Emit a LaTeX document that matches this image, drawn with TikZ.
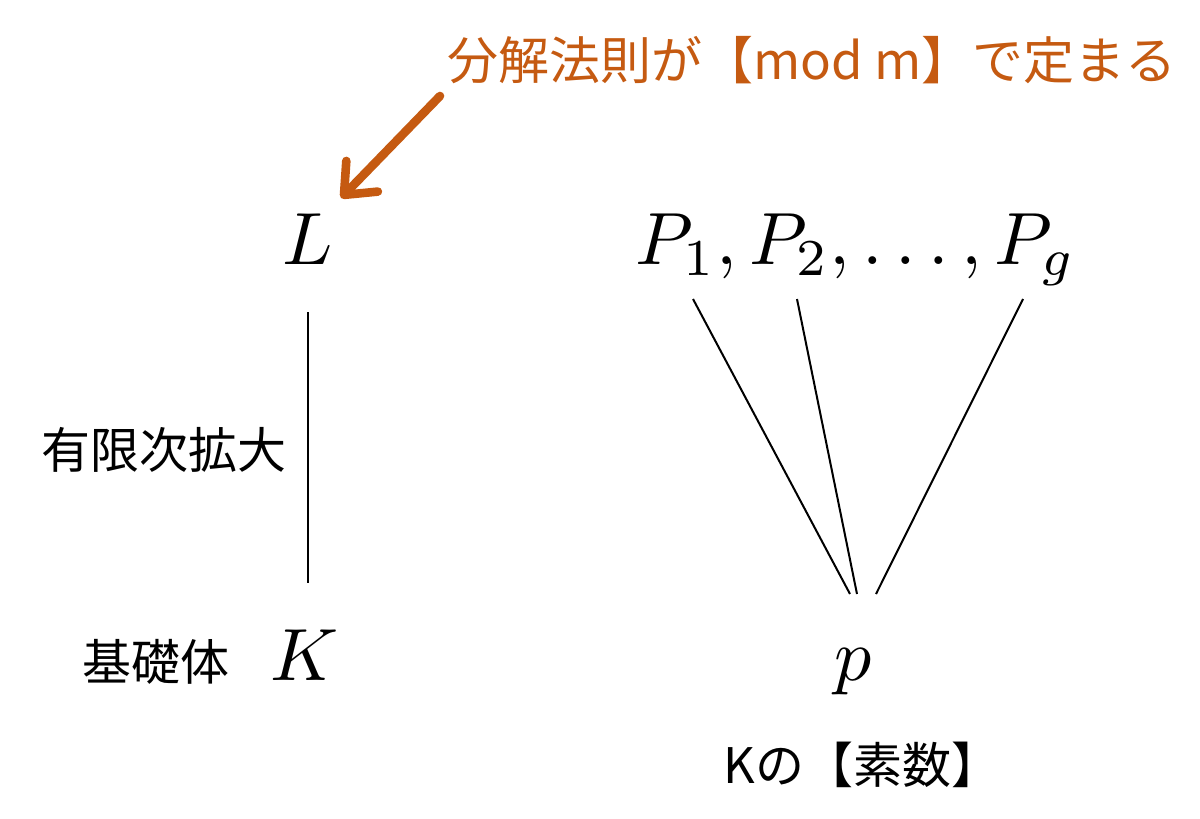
\RequirePackage{fix-cm}
\documentclass[tikz,border=0pt]{standalone}
\usepackage[no-math]{fontspec}
\setmainfont{Noto Sans CJK JP}
\usetikzlibrary{arrows.meta}
\definecolor{accentorange}{HTML}{C55A11}
\begin{document}
\begin{tikzpicture}[x=0.5pt,y=-0.5pt,
  mathlbl/.style={inner sep=0pt,anchor=base,scale=3.7,font=\fontsize{10}{12}\selectfont},
  jplbl/.style={inner sep=0pt,font=\fontsize{24.5}{30}\selectfont},
  conn/.style={line width=1pt,black},
  note/.style={line width=4.3pt,accentorange,line cap=round,-{Straight Barb[length=13pt,width=22pt,line width=4.3pt,round]}}]
\useasboundingbox (0,0) rectangle (1200,819);
% main symbols
\node[mathlbl] (L) at (308,264) {$L$};
\node[mathlbl] (K) at (305,680) {$K$};
\node[mathlbl] (P) at (856,264) {$P_1, P_2, \ldots, P_g$};
\node[mathlbl] (p) at (853,680) {$p$};
% labels
\node[jplbl] (ext) at (164,450) {有限次拡大};
\node[jplbl] (base) at (156,662) {基礎体};
\node[jplbl] (prime) at (862,765) {Kの【素数】};
\node[jplbl,text=accentorange,font=\fontsize{25.5}{30}\selectfont] (rule) at (812,60) {分解法則が【mod m】で定まる};
% connector ends
\coordinate (Lb) at (308,312);
\coordinate (Kt) at (308,583);
\coordinate (P1b) at (693,299);
\coordinate (P2b) at (797,299);
\coordinate (Pgb) at (1023,299);
\coordinate (pt1) at (850,594);
\coordinate (pt2) at (857,594);
\coordinate (pt3) at (876,594);
\coordinate (as) at (440,96);
\coordinate (ae) at (341,198);
\draw[conn] (Lb) -- (Kt);
\draw[conn] (P1b) -- (pt1);
\draw[conn] (P2b) -- (pt2);
\draw[conn] (Pgb) -- (pt3);
\draw[note] (as) -- (ae);
\end{tikzpicture}
\end{document}
